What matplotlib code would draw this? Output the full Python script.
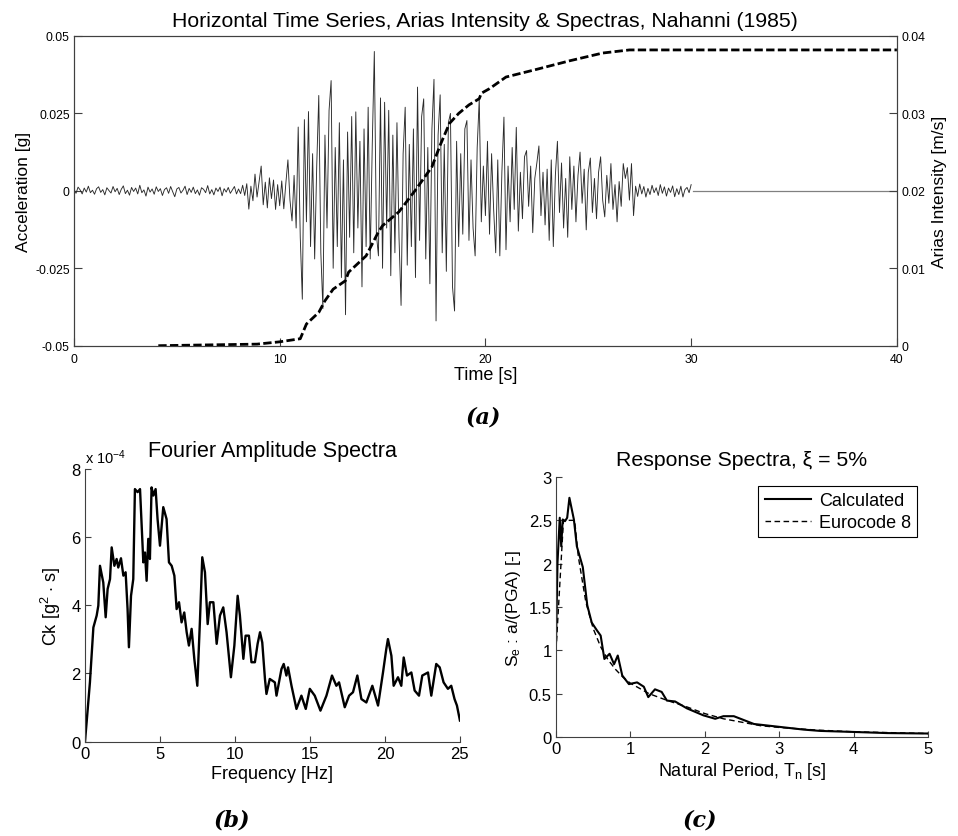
"""
Nahanni (1985): time series + Arias intensity, Fourier spectrum, response spectrum
"""
import numpy as np
import matplotlib
matplotlib.use("Agg")
import matplotlib.pyplot as plt

plt.rcParams['font.family'] = ['Liberation Sans', 'DejaVu Sans']
plt.rcParams['mathtext.fontset'] = 'custom'
plt.rcParams['mathtext.rm'] = 'Liberation Sans'
plt.rcParams['mathtext.it'] = 'Liberation Sans:italic'

# ---- (a) horizontal acceleration, milli-g, sampled every 0.1 s from 0 to 30 s
acc_dt = 0.1
acc_milli_g = [
    0.5, -0.8, 1.2, 0.3, -1.0, 0.9, -0.4, 1.5, -0.6, 0.2,
    -1.1, 0.7, 1.3, -0.5, 0.4, -1.3, 1.0, 0.1, -0.7, 1.4,
    -0.3, 0.8, -1.2, 0.5, 1.6, -0.9, 0.2, -1.4, 1.1, -0.2,
    0.9, -1.0, 1.8, -0.6, 0.3, -1.7, 1.2, -0.4, 0.6, -1.1,
    1.3, -0.2, 0.7, -1.5, 0.4, 1.0, -0.8, 1.4, -0.3, -1.9,
    0.6, 1.1, -0.7, 0.2, 1.5, -1.2, 0.8, -0.5, 1.2, -0.9,
    0.3, -1.4, 1.0, 0.5, -0.6, 1.7, -1.0, 0.4, -1.3, 0.9,
    -0.2, 1.2, -1.6, 0.7, -0.4, 1.1, -0.8, 0.3, 1.4, -1.0,
    0.6, -0.9, 1.8, -1.5, 2.3, -5.9, 1.5, -3.2, 5.4, -2.0,
    3.0, 8.0, -4.5, 2.8, -5.5, 4.2, -2.5, 3.5, -6.0, 2.0,
    -4.8, 3.2, -5.8, 2.5, 10.0, -3.0, -9.7, 5.0, -12.0, 20.6,
    -15.0, -35.0, 23.0, -10.0, 25.6, -18.0, 12.0, -22.0, 8.0, 30.8,
    -20.0, -38.0, 18.0, -12.0, 26.0, 35.6, -25.0, 14.0, -18.0, 22.0,
    -28.0, 10.0, -40.0, 19.0, -15.0, 24.0, -20.0, 25.5, -12.0, 16.0,
    -31.0, 20.0, -18.0, 27.0, -22.0, 15.0, 45.0, -14.0, -21.0, 30.0,
    -25.0, 28.6, -12.0, 26.0, -27.4, 18.0, -20.0, 22.0, -15.0, -37.0,
    12.0, 27.0, -24.0, 15.0, -18.0, 20.0, -28.0, 33.5, -16.0, 24.0,
    29.7, -22.0, 14.0, -30.0, 20.0, 36.0, -42.0, 18.0, 31.0, -20.0,
    15.0, -26.0, 22.0, 25.0, -31.0, -38.8, 16.0, -18.0, 12.0, -14.0,
    20.0, 22.7, -16.0, 10.0, -12.0, -21.0, 14.0, 29.7, -10.0, 8.0,
    -8.0, 16.0, -14.0, 12.0, -6.0, -20.0, 10.0, -21.0, 6.0, 23.8,
    -19.0, 8.0, -10.0, 14.0, -6.0, 20.5, -13.0, 6.0, -9.0, 11.0,
    13.0, -5.0, 8.0, -13.5, 4.0, 9.0, 14.5, -8.0, 6.0, -11.0,
    7.0, -16.0, 10.0, -18.0, 5.0, 16.0, -7.0, 9.0, -12.0, 4.0,
    -15.0, 11.0, -6.0, 8.0, -10.0, 5.0, 12.5, -4.0, 7.0, -12.6,
    6.0, 10.6, -7.0, 4.0, -9.0, 6.0, 11.0, -3.0, -8.4, 5.0,
    -4.0, 8.8, -6.0, 2.0, -10.0, 3.0, -5.0, 8.8, 4.0, 7.5,
    -3.0, 8.8, -8.0, 1.5, -1.8, 2.2, -1.0, 1.4, -2.0, 0.8,
    -1.2, 1.8, -0.6, 1.0, -1.5, 2.0, -0.8, 1.3, -1.7, 0.9,
    -0.5, 1.6, -1.9, 0.7, -1.2, 1.5, -2.0, 0.4, 1.1, -0.6,
    2.0,
]
# record is zero-padded after 30 s
pad_time = [30.1, 40.0]
pad_milli_g = [0.0, 0.0]

# Arias intensity [m/s]
arias_time = [4.1, 8.9, 10.0, 11.0, 11.3, 11.9, 12.2, 12.6, 13.2, 13.35, 14.2,
              14.8, 15.0, 15.8, 16.6, 17.4, 17.8, 18.25, 18.7, 19.2, 19.7, 19.8,
              20.2, 21.0, 22.5, 24.1, 25.7, 27.0, 40.0]
arias_ms = [0.0, 0.0002, 0.0005, 0.0009, 0.0028, 0.0043, 0.0058, 0.0073, 0.0084,
            0.0095, 0.0116, 0.0147, 0.0155, 0.0173, 0.0201, 0.0231, 0.0259,
            0.0287, 0.0300, 0.0311, 0.0319, 0.0326, 0.0332, 0.0347, 0.0357,
            0.0368, 0.0378, 0.0382, 0.0382]

# ---- (b) Fourier amplitude, units of 1e-4 g^2.s
fas_freq = [0.0, 0.11, 0.33, 0.56, 0.78, 0.89, 1.0, 1.22, 1.38, 1.51, 1.67, 1.78,
            1.96, 2.11, 2.22, 2.4, 2.56, 2.71, 2.84, 2.93, 3.07, 3.22, 3.33, 3.51,
            3.67, 3.78, 3.89, 4.0, 4.11, 4.22, 4.33, 4.44, 4.56, 4.71, 4.84, 5.0,
            5.22, 5.44, 5.6, 5.78, 5.96, 6.11, 6.27, 6.44, 6.62, 6.78, 6.93, 7.11,
            7.29, 7.49, 7.67, 7.82, 8.0, 8.18, 8.33, 8.56, 8.78, 9.0, 9.22, 9.44,
            9.73, 9.96, 10.18, 10.33, 10.56, 10.71, 10.93, 11.1, 11.33, 11.51,
            11.67, 11.82, 12.0, 12.1, 12.32, 12.66, 12.77, 13.1, 13.25, 13.43,
            13.54, 13.77, 14.1, 14.43, 14.72, 14.99, 15.32, 15.7, 16.1, 16.47,
            16.76, 16.94, 17.32, 17.61, 17.87, 18.16, 18.43, 18.76, 19.16, 19.54,
            19.87, 20.09, 20.2, 20.43, 20.58, 20.87, 21.09, 21.25, 21.47, 21.76,
            21.98, 22.27, 22.49, 22.87, 23.09, 23.42, 23.65, 23.91, 24.2, 24.42,
            24.64, 24.8, 25.0]
fas_amp = [0.0, 0.57, 1.74, 3.35, 3.7, 3.99, 5.16, 4.67, 3.65, 4.48, 4.77, 5.7,
           5.16, 5.36, 5.11, 5.38, 4.87, 4.97, 3.89, 2.77, 4.28, 4.77, 7.41, 7.32,
           7.41, 6.34, 5.26, 5.55, 4.72, 5.95, 5.36, 7.46, 7.22, 7.41, 6.53, 5.75,
           6.88, 6.53, 5.26, 5.16, 4.87, 3.89, 4.09, 3.5, 3.79, 3.21, 2.82, 3.31,
           2.43, 1.64, 3.6, 5.41, 4.97, 3.45, 4.09, 4.09, 2.87, 3.7, 3.94, 3.21,
           1.89, 2.82, 4.28, 3.7, 2.43, 3.11, 3.11, 2.33, 2.33, 2.87, 3.21, 2.91,
           1.84, 1.4, 1.84, 1.74, 1.35, 2.13, 2.28, 1.94, 2.18, 1.64, 0.96, 1.35,
           0.96, 1.55, 1.35, 0.91, 1.35, 1.94, 1.64, 1.74, 1.01, 1.35, 1.45, 1.94,
           1.25, 1.15, 1.64, 1.06, 2.03, 2.72, 3.01, 2.52, 1.64, 1.89, 1.64, 2.47,
           1.94, 2.03, 1.5, 1.35, 1.94, 2.03, 1.35, 2.28, 2.18, 1.74, 1.55, 1.64,
           1.25, 1.06, 0.62]

# ---- (c) response spectra, Se/PGA
rs_period = [0.0, 0.02, 0.05, 0.07, 0.09, 0.12, 0.15, 0.18, 0.24, 0.28, 0.36,
             0.42, 0.48, 0.55, 0.6, 0.65, 0.72, 0.78, 0.83, 0.89, 0.98, 1.09,
             1.18, 1.24, 1.33, 1.42, 1.49, 1.6, 1.76, 1.98, 2.14, 2.25, 2.39,
             2.66, 2.97, 3.33, 3.55, 4.0, 4.45, 5.0]
rs_calc = [1.09, 2.01, 2.53, 2.2, 2.51, 2.49, 2.53, 2.76, 2.51, 2.2, 1.96, 1.52,
           1.32, 1.23, 1.17, 0.9, 0.96, 0.84, 0.94, 0.71, 0.61, 0.63, 0.58, 0.46,
           0.55, 0.52, 0.42, 0.41, 0.33, 0.25, 0.21, 0.24, 0.24, 0.15, 0.12,
           0.085, 0.07, 0.058, 0.045, 0.04]
ec8_period = [0.0, 0.05, 0.1, 0.2, 0.25, 0.3, 0.4, 0.5, 0.6, 0.7, 0.8, 0.9, 1.0,
              1.25, 1.5, 1.75, 2.0, 2.25, 2.5, 2.75, 3.0, 3.5, 4.0, 4.5, 5.0]
ec8_se = [1.0, 1.75, 2.5, 2.5, 2.5, 2.08, 1.56, 1.25, 1.04, 0.89, 0.78, 0.69,
          0.62, 0.5, 0.42, 0.35, 0.27, 0.21, 0.17, 0.13, 0.11, 0.08, 0.06,
          0.05, 0.04]

AX_COL = '#404040'
fig = plt.figure(figsize=(9.58, 8.37), dpi=100)

# ---------------- (a)
ax = fig.add_axes([0.0772, 0.5858, 0.859, 0.370])
t = np.arange(len(acc_milli_g)) * acc_dt
ax.plot(t, np.array(acc_milli_g) / 1000.0, color='#2a2a2a', lw=0.65)
ax.plot(pad_time, np.array(pad_milli_g) / 1000.0, color='#808080', lw=0.9)
ax.set_xlim(0, 40)
ax.set_ylim(-0.05, 0.05)
ax.set_xticks([0, 10, 20, 30, 40])
ax.set_yticks([-0.05, -0.025, 0, 0.025, 0.05])
ax.set_yticklabels(['-0.05', '-0.025', '0', '0.025', '0.05'])
ax.set_xlabel('Time [s]', fontsize=13, labelpad=1)
ax.set_ylabel('Acceleration [g]', fontsize=12.5, labelpad=3)
ax.set_title('Horizontal Time Series, Arias Intensity & Spectras, Nahanni (1985)',
             fontsize=15.3, pad=7)

ax2 = ax.twinx()
ax2.plot(arias_time, arias_ms, color='black', lw=2.0, dashes=(3.0, 1.2))
ax2.set_ylim(0, 0.04)
ax2.set_yticks([0, 0.01, 0.02, 0.03, 0.04])
ax2.set_yticklabels(['0', '0.01', '0.02', '0.03', '0.04'])
ax2.set_ylabel('Arias Intensity [m/s]', fontsize=12.5, labelpad=5)

for a in (ax, ax2):
    a.tick_params(direction='in', length=6, width=0.8, colors=AX_COL,
                  labelsize=8.8, labelcolor='black', pad=3)
    for s in a.spines.values():
        s.set_color(AX_COL)
        s.set_linewidth(0.8)
ax.tick_params(top=False, right=False)
ax.tick_params(axis='x', pad=5)

fig.text(0.505, 0.5006, '(a)', fontsize=16, fontweight='bold', fontstyle='italic',
         family='DejaVu Serif', ha='center', va='center')

# ---------------- (b)
axb = fig.add_axes([0.0887, 0.1127, 0.3914, 0.3258])
axb.plot(fas_freq, fas_amp, color='black', lw=1.7)
axb.set_xlim(0, 25)
axb.set_ylim(0, 8)
axb.set_xticks([0, 5, 10, 15, 20, 25])
axb.set_yticks([0, 2, 4, 6, 8])
axb.set_xlabel('Frequency [Hz]', fontsize=13, labelpad=3)
axb.set_ylabel(r'Ck [g$^2$ $\cdot$ s]', fontsize=13, labelpad=6)
axb.set_title('Fourier Amplitude Spectra', fontsize=15.5, pad=9)
axb.text(0.0, 1.01, r'x 10$^{-4}$', transform=axb.transAxes, fontsize=10.5,
         ha='left', va='bottom')

fig.text(0.242, 0.020, '(b)', fontsize=16, fontweight='bold', fontstyle='italic',
         family='DejaVu Serif', ha='center', va='center')

# ---------------- (c)
axc = fig.add_axes([0.5804, 0.1183, 0.3883, 0.3106])
axc.plot(rs_period, rs_calc, color='black', lw=1.5, label='Calculated')
axc.plot(ec8_period, ec8_se, color='black', lw=1.0, dashes=(4, 2.5),
         label='Eurocode 8')
axc.set_xlim(0, 5)
axc.set_ylim(0, 3)
axc.set_xticks([0, 1, 2, 3, 4, 5])
axc.set_yticks([0, 0.5, 1, 1.5, 2, 2.5, 3])
axc.set_yticklabels(['0', '0.5', '1', '1.5', '2', '2.5', '3'])
axc.set_xlabel(r'Natural Period, T$_\mathrm{n}$ [s]', fontsize=13, labelpad=3)
axc.set_ylabel(r'S$_\mathrm{e}$ : a/(PGA) [-]', fontsize=12.5, labelpad=4)
axc.set_title('Response Spectra, \u03be = 5%', fontsize=15.3, pad=9)
leg = axc.legend(loc='upper right', fontsize=13, frameon=True, fancybox=False,
                 framealpha=1, edgecolor='black', handlelength=2.6,
                 borderpad=0.35, labelspacing=0.25, handletextpad=0.4,
                 bbox_to_anchor=(0.995, 1.0))
leg.get_frame().set_linewidth(0.8)

fig.text(0.731, 0.020, '(c)', fontsize=16, fontweight='bold', fontstyle='italic',
         family='DejaVu Serif', ha='center', va='center')

for a in (axb, axc):
    a.spines['top'].set_visible(False)
    a.spines['right'].set_visible(False)
    for s in ('left', 'bottom'):
        a.spines[s].set_color(AX_COL)
        a.spines[s].set_linewidth(0.8)
    a.tick_params(direction='in', length=4, width=0.8, colors=AX_COL,
                  labelsize=12, labelcolor='black', pad=3)

fig.savefig('out.png', dpi=100)
